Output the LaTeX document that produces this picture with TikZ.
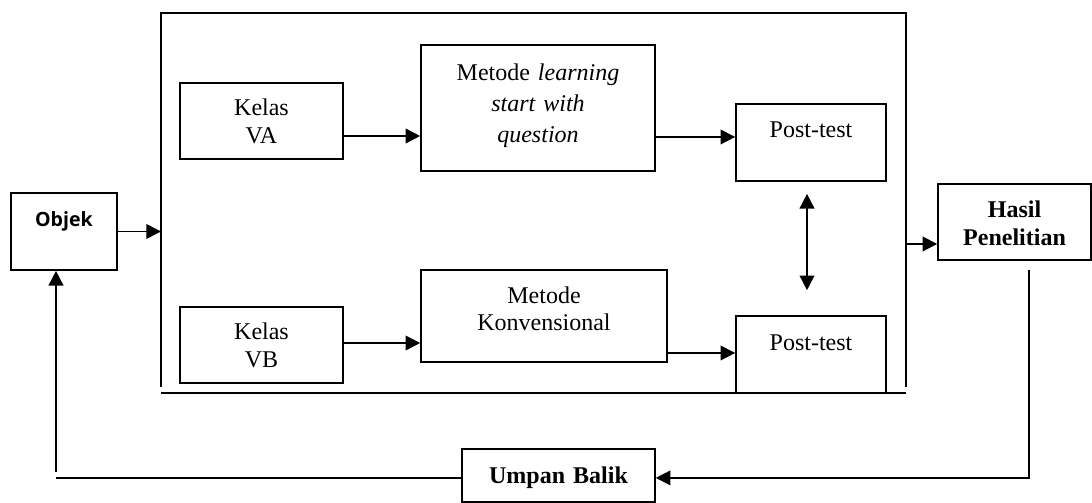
\documentclass[tikz,border=0pt]{standalone}
\usepackage{fontspec}
\setmainfont{Liberation Serif}
\newfontfamily\objfont{Open Sans}
\usetikzlibrary{arrows.meta,calc}

\begin{document}
\begin{tikzpicture}[x=0.75pt,y=-0.75pt,
  box/.style={draw, line width=1.2pt, inner sep=0pt, align=center, anchor=base,
              font=\fontsize{18pt}{21.5pt}\selectfont},
  frameline/.style={line width=1.2pt},
  link/.style={line width=1.2pt},
  arr/.style={line width=1.2pt, -{Triangle[length=11pt,width=11pt]}},
  arrboth/.style={line width=1.2pt, {Triangle[length=11pt,width=11pt]}-{Triangle[length=11pt,width=11pt]}}
]
\useasboundingbox (0,0) rectangle (1092,503);

% outer frame of the experiment
\coordinate (fTL) at (161,13);
\coordinate (fTR) at (906,13);
\coordinate (fBL) at (161,393);
\coordinate (fBR) at (906,393);
\draw[frameline] ([yshift=4.5pt]fBL) -- (fTL) -- (fTR) -- ([yshift=4.5pt]fBR);
\draw[frameline] (fBL) -- (fBR);

% boxes (placed by first baseline)
\node[box, font=\objfont\bfseries\fontsize{14.7pt}{17pt}\selectfont,
      text width=79.5pt, text height=25.3pt, text depth=32.5pt] (objek) at (64,226.7) {Objek};
\node[box, text width=122.25pt, text height=24pt, text depth=33pt] (va) at (261.5,115) {Kelas\\VA};
\node[box, font=\fontsize{18pt}{23.25pt}\selectfont,
      text width=175.5pt, text height=26.8pt, text depth=67.7pt] (lsq) at (538,80.7)
      {Metode \textit{learning}\\\textit{start with}\\\textit{question}};
\node[box, text width=112.5pt, text height=25pt, text depth=32.8pt] (postA) at (811,137.3) {Post-test};
\node[box, text width=122.25pt, text height=24pt, text depth=33pt] (vb) at (261.5,339) {Kelas\\VB};
\node[box, font=\fontsize{18pt}{20.25pt}\selectfont,
      text width=184.5pt, text height=25pt, text depth=44pt] (konv) at (544,303.3) {Metode\\Konvensional};
\node[box, text width=112.5pt, text height=25.5pt, text depth=32.25pt] (postB) at (811,350) {Post-test};
\node[box, font=\bfseries\fontsize{18pt}{20.8pt}\selectfont,
      text width=114.75pt, text height=25pt, text depth=32pt] (hasil) at (1014.5,217.3) {Hasil\\Penelitian};
\node[box, font=\bfseries\fontsize{18pt}{21.5pt}\selectfont,
      text width=144.75pt, text height=25.7pt, text depth=13.8pt] (umpan) at (558.5,483.3) {Umpan Balik};

% connectors
\draw[arr] (objek.east) -- (objek.east -| fTL);
\draw[arr] ([yshift=-11.25pt]va.east) coordinate (t1) -- (t1 -| lsq.west);
\draw[arr] ([yshift=-21.75pt]lsq.east) coordinate (t2) -- (t2 -| postA.west);
\draw[arr] ([yshift=1.5pt]vb.east) coordinate (t3) -- (t3 -| konv.west);
\draw[arr] ([yshift=-27.75pt]konv.east) coordinate (t4) -- (t4 -| postB.west);
\draw[arrboth] ([xshift=-3pt,yshift=-9pt]postA.south) -- ([xshift=-3pt,yshift=18.75pt]postB.north);
\draw[arr] ([yshift=-16.5pt]hasil.west -| fTR) -- ([yshift=-16.5pt]hasil.west);

% feedback loop
\coordinate (fb) at ([yshift=-1.9pt]umpan.east);
\draw[arr] ([xshift=10.9pt,yshift=-6.75pt]hasil.south) |- (fb);
\coordinate (fbL) at ([xshift=-6pt]objek.south |- fb);
\draw[link] (fb -| umpan.west) -- (fbL);
\draw[arr] ([yshift=4.5pt]fbL) -- ([xshift=-6pt]objek.south);
\end{tikzpicture}
\end{document}
